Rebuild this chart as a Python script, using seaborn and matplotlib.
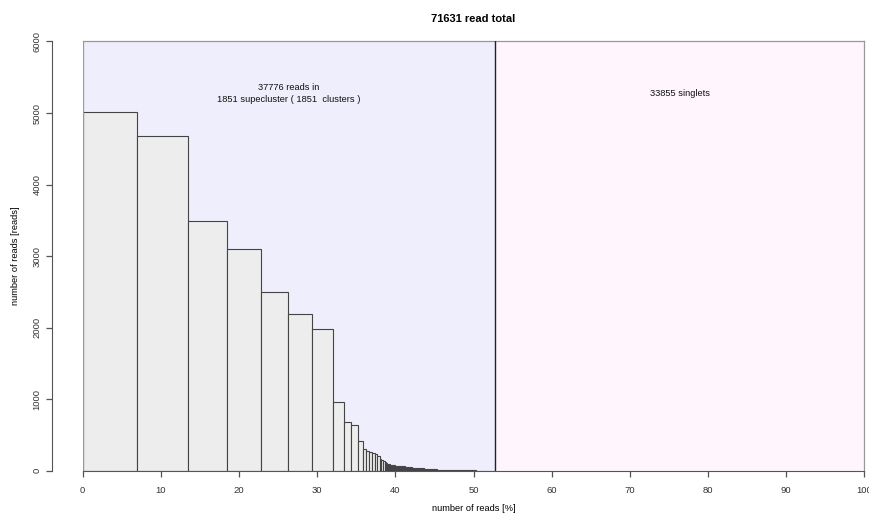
import numpy as np
import pandas as pd
import matplotlib
matplotlib.use('Agg')
import matplotlib.pyplot as plt
import seaborn as sns

# read counts
total_reads = 71631
singlets = 33855
n_superclusters = 1851

# largest clusters (reads per cluster)
head_sizes = [5008, 4685, 3497, 3105, 2503, 2196, 1986, 965, 685, 643,
              420, 300, 270, 260, 250, 235, 200, 170, 150, 130, 120, 110,
              100, 95, 90, 85, 80]
# long tail of small clusters: cluster size and how many clusters have it
tail_sizes = [75, 70, 65, 60, 55, 50, 45, 40, 35, 30, 25, 20, 15, 12, 10,
              8, 6, 5, 4, 3, 2, 1]
tail_counts = [4, 4, 5, 5, 6, 7, 8, 9, 10, 12, 15, 20, 30, 35, 45,
               60, 90, 110, 170, 299, 1, 879]

x_ticks = [0, 10, 20, 30, 40, 50, 60, 70, 80, 90, 100]
y_ticks = [0, 1000, 2000, 3000, 4000, 5000, 6000]

cluster_reads = np.concatenate([head_sizes,
                                np.repeat(tail_sizes, tail_counts)])
clustered = int(cluster_reads.sum())
widths = cluster_reads / total_reads * 100
edges = np.concatenate([[0], np.cumsum(widths)])
df = pd.DataFrame({
    'pos': (edges[:-1] + edges[1:]) / 2,
    'reads': cluster_reads,
})
split = clustered / total_reads * 100

plt.rcParams['font.family'] = ['Liberation Sans', 'DejaVu Sans']

fig = plt.figure(figsize=(8.69, 5.14), dpi=100)
ax = fig.add_axes([0.0952, 0.0842, 0.8994, 0.8351])

# background regions
ax.axvspan(0, split, color='#eeeefd', zorder=0, lw=0)
ax.axvspan(split, 100, color='#fff5fd', zorder=0, lw=0)

sns.histplot(
    data=df, x='pos', weights='reads', bins=edges.tolist(), stat='count',
    color='#ededed', edgecolor='#444444', linewidth=0.8, alpha=1,
    ax=ax, zorder=2
)

ax.axvline(split, color='#222222', lw=1.0, zorder=3)
ax.axvline(0, color='#999999', lw=0.9, zorder=3)

ax.set_xlim(0, 100)
ax.set_ylim(0, 6000)

ax.text(split / 2, 5270,
        '{} reads in\n{} supecluster ( {}  clusters )'.format(
            clustered, n_superclusters, n_superclusters),
        ha='center', va='center', fontsize=6.7, color='#111111',
        linespacing=1.4)
ax.text((split + 100) / 2, 5270, '{} singlets'.format(singlets),
        ha='center', va='center', fontsize=6.7, color='#111111')

ax.set_title('{} read total'.format(total_reads), fontsize=8,
             fontweight='bold', pad=14)
ax.set_xlabel('number of reads [%]', fontsize=6.7, labelpad=6.5)
ax.set_ylabel('number of reads [reads]', fontsize=6.7, labelpad=9)

# R-like axes
for side in ['top', 'right']:
    ax.spines[side].set_color('#999999')
    ax.spines[side].set_linewidth(0.9)
ax.spines['left'].set_position(('outward', 22))
ax.spines['left'].set_bounds(0, 6000)
ax.spines['left'].set_color('#555555')
ax.spines['bottom'].set_bounds(0, 100)
ax.spines['bottom'].set_color('#555555')
ax.spines['bottom'].set_zorder(4)

ax.set_xticks(x_ticks)
ax.set_yticks(y_ticks)
ax.set_yticklabels([str(v) for v in y_ticks], rotation=90, va='center')
ax.tick_params(axis='both', direction='out', length=4.3, width=0.9,
               color='#555555', labelsize=6.8, labelcolor='#333333')
ax.tick_params(axis='x', pad=7)
ax.tick_params(axis='y', pad=3.5)

fig.savefig('out.png', dpi=100)
